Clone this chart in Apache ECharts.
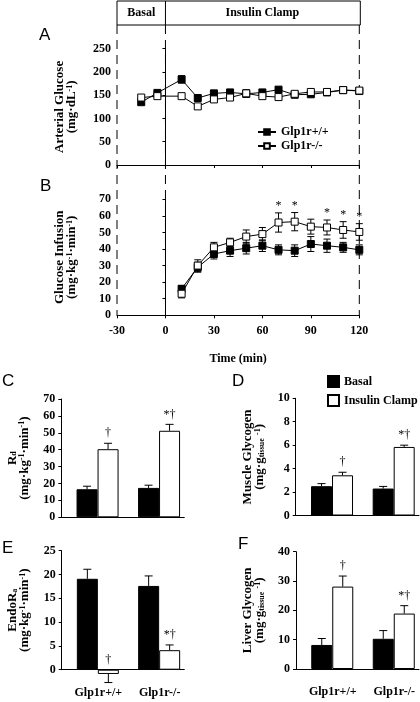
<!DOCTYPE html>
<html><head><meta charset="utf-8">
<script src="https://cdn.jsdelivr.net/npm/echarts@6/dist/echarts.min.js"></script>
<style>html,body{margin:0;padding:0;background:#fff}#c{width:420px;height:702px}</style>
</head><body><div id="c"></div>
<script>
// ---------- data ----------
const glucoseTime = [-15, -5, 10, 20, 30, 40, 50, 60, 70, 80, 90, 100, 110, 120];
const glucoseWT = [135, 155, 184, 144, 154, 156, 153, 156, 162, 151, 152, 156, 161, 159];
const glucoseWTErr = [4, 3, 8, 4, 3, 3, 3, 3, 3, 3, 3, 3, 3, 3];
const glucoseKO = [145, 148, 148, 126, 141, 145, 154, 148, 146, 153, 157, 157, 161, 160];
const glucoseKOErr = [3, 3, 3, 4, 3, 3, 8, 3, 3, 3, 3, 3, 3, 6];

const infusionTime = [10, 20, 30, 40, 50, 60, 70, 80, 90, 100, 110, 120];
const infusionWT = [16, 29, 37, 39, 40.5, 42, 39.5, 39, 43, 42, 41, 39.5];
const infusionWTErr = [2, 3, 3, 3.5, 3.5, 3.5, 3, 3.5, 4.5, 4, 3, 3];
const infusionKO = [13, 30, 41, 44, 47.5, 49, 56, 56.5, 53.5, 53, 51.5, 50.3];
const infusionKOErr = [2.5, 3.5, 3, 2.5, 4, 4, 5.8, 5.5, 4.5, 4.5, 5, 5];
const infusionSig = ['', '', '', '', '', '', '*', '*', '', '*', '*', '*'];

const timeTicks = [-30, 0, 30, 60, 90, 120];
const phaseBasal = [-30, 0];
const phaseClamp = [0, 120];
const phaseNames = ['Basal', 'Insulin Clamp'];
const genotypes = ['Glp1r+/+', 'Glp1r-/-'];
const groupNames = ['Basal', 'Insulin Clamp'];

const rdBasal = [16.6, 17.4], rdBasalErr = [1.8, 1.6];
const rdClamp = [40.3, 51.2], rdClampErr = [3.5, 3.8];
const rdMarks = ['†', '*†'];

const mgBasal = [2.5, 2.3], mgBasalErr = [0.22, 0.18];
const mgClamp = [3.43, 5.85], mgClampErr = [0.26, 0.15];
const mgMarks = ['†', '*†'];

const raBasal = [19.1, 17.6], raBasalErr = [2.0, 2.1];
const raClamp = [-0.9, 4.1], raClampErr = [1.8, 1.1];
const raMarks = ['†', '*†'];

const lgBasal = [8.2, 10.3], lgBasalErr = [2.2, 2.8];
const lgClamp = [28.1, 18.9], lgClampErr = [3.6, 2.7];
const lgMarks = ['†', '*†'];

// ---------- style ----------
const SERIF = 'Liberation Serif';
const SANS = 'Liberation Sans';
const BAR_W = 21, SPACER_W = 11;
const RICH = {
  sup: { fontSize: 8, fontWeight: 'bold', fontFamily: SERIF, color: '#000', lineHeight: 8, verticalAlign: 'top' },
  sub: { fontSize: 8, fontWeight: 'bold', fontFamily: SERIF, color: '#000', lineHeight: 8, verticalAlign: 'bottom' }
};
const nameStyle = (extra) => Object.assign({ fontFamily: SERIF, fontWeight: 'bold', fontSize: 13, color: '#000', lineHeight: 12, rich: RICH }, extra || {});

function valAxisY(grid, min, max, interval, name, gap, nameExtra) {
  return {
    gridIndex: grid, type: 'value', min: min, max: max, interval: interval,
    name: name, nameLocation: 'middle', nameRotate: 90, nameGap: gap,
    nameTextStyle: nameStyle(nameExtra),
    axisLine: { show: true, lineStyle: { color: '#000', width: 1 } },
    axisTick: { show: true, length: 3, lineStyle: { color: '#000' } },
    axisLabel: { color: '#000', fontFamily: SERIF, fontWeight: 'bold', fontSize: 12, margin: 6 },
    splitLine: { show: false }
  };
}
function timeAxisX(grid, showLabels) {
  return {
    gridIndex: grid, type: 'value', min: timeTicks[0], max: timeTicks[timeTicks.length - 1], interval: 30,
    name: showLabels ? 'Time (min)' : '', nameLocation: 'middle', nameGap: 38,
    nameTextStyle: { fontFamily: SERIF, fontWeight: 'bold', fontSize: 12, color: '#000' },
    axisLine: { onZero: false, lineStyle: { color: '#000', width: 1 } },
    axisTick: { length: 3, lineStyle: { color: '#000' } },
    axisLabel: { show: showLabels, color: '#000', fontFamily: SERIF, fontWeight: 'bold', fontSize: 12, margin: 10 },
    splitLine: { show: false }
  };
}
function catAxisX(grid, showLabels) {
  return {
    gridIndex: grid, type: 'category', data: genotypes,
    axisLine: { onZero: true, lineStyle: { color: '#000', width: 1 } },
    axisTick: { length: 3, lineStyle: { color: '#000' } },
    axisLabel: {
      show: showLabels, interval: 0, hideOverlap: false, color: '#000', fontFamily: SERIF, fontWeight: 'bold', fontSize: 12, margin: 17,
      formatter: (v) => '{s|' + v + '}',
      rich: { s: { fontFamily: SERIF, fontWeight: 'bold', fontSize: 12, color: '#000', padding: [0, 0, 0, 12] } }
    },
    splitLine: { show: false }
  };
}

function lineSeries(name, axis, xs, ys, filled) {
  return {
    type: 'line', name: name, xAxisIndex: axis, yAxisIndex: axis, z: 3,
    data: xs.map((x, i) => [x, ys[i]]),
    symbol: 'rect', symbolSize: 7, showSymbol: true,
    lineStyle: { color: '#000', width: 1 },
    itemStyle: filled ? { color: '#000', borderColor: '#000', borderWidth: 1 } : { color: '#fff', borderColor: '#000', borderWidth: 1 },
    emphasis: { disabled: true }, animation: false
  };
}
function lineErrSeries(axis, xs, ys, errs, sig) {
  return {
    type: 'custom', xAxisIndex: axis, yAxisIndex: axis, z: 2, silent: true, animation: false,
    data: xs.map((x, i) => [x, ys[i] - errs[i], ys[i] + errs[i]]),
    encode: { x: 0, y: [1, 2] },
    renderItem: function (params, api) {
      const x = api.value(0);
      const a = api.coord([x, api.value(2)]);
      const b = api.coord([x, api.value(1)]);
      const c = 3.5;
      const st = { stroke: '#000', lineWidth: 1 };
      const children = [
        { type: 'line', shape: { x1: a[0], y1: a[1], x2: b[0], y2: b[1] }, style: st },
        { type: 'line', shape: { x1: a[0] - c, y1: a[1], x2: a[0] + c, y2: a[1] }, style: st },
        { type: 'line', shape: { x1: b[0] - c, y1: b[1], x2: b[0] + c, y2: b[1] }, style: st }
      ];
      if (sig && sig[params.dataIndex]) {
        children.push({ type: 'text', style: { text: sig[params.dataIndex], x: a[0], y: a[1] - 1, align: 'center', verticalAlign: 'bottom', font: '12px ' + SERIF, fill: '#000' } });
      }
      return { type: 'group', children: children };
    }
  };
}

function barPanel(axis, basal, basalErr, clamp, clampErr, marks) {
  const common = { xAxisIndex: axis, yAxisIndex: axis, barGap: '0%', barCategoryGap: '20%', animation: false, emphasis: { disabled: true }, clip: false };
  const errData = [];
  basal.forEach((v, i) => errData.push([i, v, basalErr[i], 0]));
  clamp.forEach((v, i) => errData.push([i, v, clampErr[i], 1]));
  return [
    Object.assign({ type: 'bar', name: 'spacer', data: [], barWidth: SPACER_W, itemStyle: { color: 'rgba(0,0,0,0)' }, silent: true }, common),
    Object.assign({ type: 'bar', name: groupNames[0], data: basal, barWidth: BAR_W, itemStyle: { color: '#000', borderColor: '#000', borderWidth: 1 } }, common),
    Object.assign({ type: 'bar', name: groupNames[1], data: clamp, barWidth: BAR_W, itemStyle: { color: '#fff', borderColor: '#000', borderWidth: 1 } }, common),
    {
      type: 'custom', xAxisIndex: axis, yAxisIndex: axis, z: 3, silent: true, animation: false, clip: false,
      data: errData, encode: { x: 0, y: 1 },
      renderItem: function (params, api) {
        const i = api.value(0), v = api.value(1), e = api.value(2), g = api.value(3);
        const center = api.coord([i, 0])[0];
        const x = center + (g === 0 ? (SPACER_W - BAR_W) / 2 : (SPACER_W + BAR_W) / 2);
        const end = v >= 0 ? v + e : v - e;
        const y0 = api.coord([i, v])[1], y1 = api.coord([i, end])[1];
        const c = 4;
        const st = { stroke: '#000', lineWidth: 1 };
        const children = [
          { type: 'line', shape: { x1: x, y1: y0, x2: x, y2: y1 }, style: st },
          { type: 'line', shape: { x1: x - c, y1: y1, x2: x + c, y2: y1 }, style: st }
        ];
        if (g === 1 && marks[i]) {
          const top = api.coord([i, v >= 0 ? v + e : 0])[1];
          children.push({ type: 'text', style: { text: marks[i], x: x, y: top - 4, align: 'center', verticalAlign: 'bottom', font: '12px ' + SERIF, fill: '#000' } });
        }
        return { type: 'group', children: children };
      }
    }
  ];
}

const letter = (t, l, tp) => ({ text: t, left: l, top: tp, padding: 0, textStyle: { fontFamily: SANS, fontSize: 17, fontWeight: 'normal', color: '#000' } });

const chart = echarts.init(document.getElementById('c'), null, { renderer: 'canvas' });
const option = {
  animation: false,
  backgroundColor: '#fff',
  title: [letter('A', 39, 27), letter('B', 40, 178), letter('C', 2, 373), letter('D', 232, 373), letter('E', 2, 540), letter('F', 238, 536)],
  legend: [
    {
      data: genotypes, left: 252, top: 121, orient: 'vertical', itemWidth: 18, itemHeight: 7, itemGap: 2,
      textStyle: { fontFamily: SERIF, fontWeight: 'bold', fontSize: 12, color: '#000' }, selectedMode: false
    },
    {
      data: groupNames, left: 322, top: 370, orient: 'vertical', icon: 'rect', itemWidth: 11, itemHeight: 11, itemGap: 6,
      textStyle: { fontFamily: SERIF, fontWeight: 'bold', fontSize: 12, color: '#000' }, selectedMode: false
    }
  ],
  grid: [
    { left: 117, top: 48.7, width: 242.3, height: 116.3 },
    { left: 117, top: 199.3, width: 242.3, height: 116 },
    { left: 61.3, top: 399, width: 123, height: 118.3 },
    { left: 295.7, top: 398.3, width: 123.3, height: 117.2 },
    { left: 61.7, top: 550.7, width: 122.6, height: 119 },
    { left: 296, top: 551.7, width: 123, height: 117.3 }
  ],
  xAxis: [timeAxisX(0, false), timeAxisX(1, true), catAxisX(2, false), catAxisX(3, false), catAxisX(4, true), catAxisX(5, true)],
  yAxis: [
    valAxisY(0, 0, 250, 50, 'Arterial Glucose\n(mg·dL{sup|-1})', 39),
    valAxisY(1, 0, 70, 10, 'Glucose Infusion\n(mg·kg{sup|-1}·min{sup|-1})', 39),
    valAxisY(2, 0, 70, 10, 'R{sub|d}\n(mg·kg{sup|-1}·min{sup|-1})', 31),
    valAxisY(3, 0, 10, 2, 'Muscle Glycogen\n(mg·g{sub|tissue} {sup|-1})', 30),
    valAxisY(4, 0, 25, 5, 'EndoR{sub|a}\n(mg·kg{sup|-1}·min{sup|-1})', 31),
    valAxisY(5, 0, 40, 10, 'Liver Glycogen\n(mg·g{sub|tissue} {sup|-1})', 30)
  ],
  series: [
    lineErrSeries(0, glucoseTime, glucoseWT, glucoseWTErr),
    lineErrSeries(0, glucoseTime, glucoseKO, glucoseKOErr),
    lineSeries(genotypes[0], 0, glucoseTime, glucoseWT, true),
    lineSeries(genotypes[1], 0, glucoseTime, glucoseKO, false),
    lineErrSeries(1, infusionTime, infusionWT, infusionWTErr),
    lineErrSeries(1, infusionTime, infusionKO, infusionKOErr, infusionSig),
    lineSeries(genotypes[0], 1, infusionTime, infusionWT, true),
    lineSeries(genotypes[1], 1, infusionTime, infusionKO, false)
  ]
    .concat(barPanel(2, rdBasal, rdBasalErr, rdClamp, rdClampErr, rdMarks))
    .concat(barPanel(3, mgBasal, mgBasalErr, mgClamp, mgClampErr, mgMarks))
    .concat(barPanel(4, raBasal, raBasalErr, raClamp, raClampErr, raMarks))
    .concat(barPanel(5, lgBasal, lgBasalErr, lgClamp, lgClampErr, lgMarks))
};
chart.setOption(option);

// header box and dashed phase lines, positioned through the time axis scale
const px = (t) => chart.convertToPixel({ xAxisIndex: 0 }, t);
const xL = px(phaseBasal[0]), xM = px(phaseClamp[0]), xR = px(phaseClamp[1]);
const bottomB = chart.convertToPixel({ yAxisIndex: 1 }, 0);
const headTop = 1, headBot = 25;
const dash = { stroke: '#000', lineWidth: 1, lineDash: [9, 6] };
const solid = { stroke: '#000', lineWidth: 1, fill: null };
chart.setOption({
  graphic: [
    { type: 'rect', shape: { x: xL, y: headTop, width: xR - xL + 1, height: headBot - headTop }, style: { stroke: '#000', lineWidth: 1, fill: 'none' }, silent: true },
    { type: 'line', shape: { x1: xM, y1: headTop, x2: xM, y2: headBot }, style: solid, silent: true },
    { type: 'text', style: { text: phaseNames[0], x: (xL + xM) / 2, y: (headTop + headBot) / 2, align: 'center', verticalAlign: 'middle', font: 'bold 12px ' + SERIF, fill: '#000' }, silent: true },
    { type: 'text', style: { text: phaseNames[1], x: (xM + xR) / 2, y: (headTop + headBot) / 2, align: 'center', verticalAlign: 'middle', font: 'bold 12px ' + SERIF, fill: '#000' }, silent: true },
    { type: 'line', shape: { x1: xL, y1: headBot, x2: xL, y2: bottomB }, style: dash, silent: true, z: -1 },
    { type: 'line', shape: { x1: xM, y1: headBot, x2: xM, y2: bottomB }, style: dash, silent: true, z: -1 },
    { type: 'line', shape: { x1: xR, y1: headBot, x2: xR, y2: bottomB }, style: dash, silent: true, z: -1 }
  ]
});
</script>
</body></html>
